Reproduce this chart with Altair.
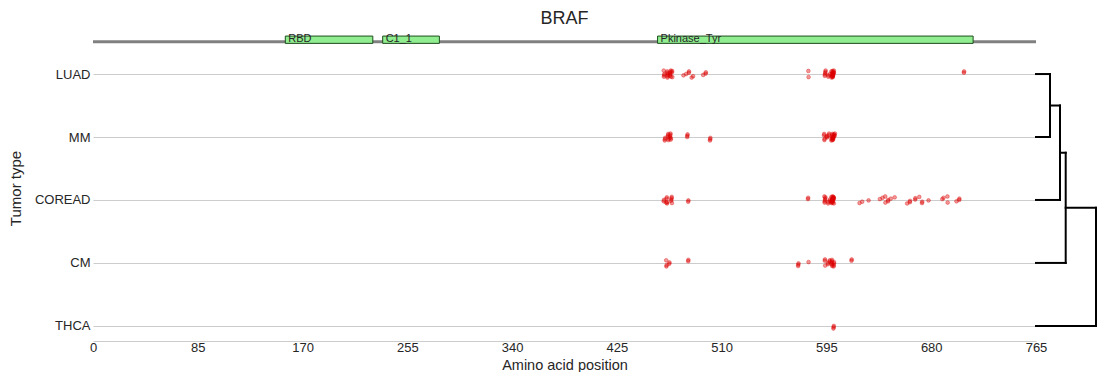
import altair as alt
import pandas as pd

FONT = "Liberation Sans"

# ---------------- data ----------------
tumor_types = ["LUAD", "MM", "COREAD", "CM", "THCA"]

luad_pos = [464, 466, 469, 479, 481, 483, 485, 486, 494, 498, 581, 594, 596, 597, 600, 601, 707]
luad_cnt = [4, 6, 9, 1, 1, 2, 1, 1, 1, 2, 2, 5, 2, 1, 14, 3, 2]

mm_pos = [464, 466, 469, 482, 500, 594, 596, 597, 600, 601]
mm_cnt = [3, 5, 6, 3, 3, 5, 2, 2, 14, 3]

coread_pos = [464, 466, 469, 482, 581, 594, 596, 597, 600, 601,
              622, 624, 629, 638, 640, 642, 644, 646, 648, 651,
              661, 663, 667, 670, 672, 677, 688, 691, 694, 701, 703]
coread_cnt = [3, 4, 5, 2, 2, 6, 2, 2, 16, 3,
              1, 1, 1, 1, 1, 2, 1, 1, 1, 1,
              1, 2, 2, 1, 2, 1, 1, 1, 2, 1, 2]

cm_pos = [465, 467, 482, 573, 581, 594, 596, 597, 600, 601, 615]
cm_cnt = [3, 2, 2, 3, 1, 3, 2, 2, 8, 2, 2]

thca_pos = [600]
thca_cnt = [3]

domain_names = ["RBD", "C1_1", "Pkinase_Tyr"]
domain_start = [156, 235, 458]
domain_end = [227, 281, 714]
protein_length = 765
x_ticks = [0, 85, 170, 255, 340, 425, 510, 595, 680, 765]

# dendrogram (scipy-style linkage: leaves 0..4, merged nodes 5..)
merge_left = [0, 5, 6, 7]
merge_right = [1, 2, 3, 4]
merge_height = [0.233, 0.40, 0.495, 1.0]

# ---------------- tables ----------------
series = [(luad_pos, luad_cnt), (mm_pos, mm_cnt), (coread_pos, coread_cnt),
          (cm_pos, cm_cnt), (thca_pos, thca_cnt)]
rows = []
k = 0
for ti, (pos, cnt) in enumerate(series):
    for p, c in zip(pos, cnt):
        for _ in range(c):
            jy = ((k * 7919) % 17) / 16 - 0.5       # deterministic jitter, +-0.5
            jx = ((k * 104729) % 13) / 12 - 0.5
            rows.append({"type": tumor_types[ti], "row": ti,
                         "pos": p + jx * 2.0, "yj": ti + jy * 7 / 63})
            k += 1
points = pd.DataFrame(rows)

domains = pd.DataFrame({"name": domain_names, "start": domain_start, "end": domain_end})
track = pd.DataFrame({"start": [0], "end": [protein_length]})

node_y = {i: float(i) for i in range(len(tumor_types))}
node_h = {i: 0.0 for i in range(len(tumor_types))}
segs = []
for m, (l, r, h) in enumerate(zip(merge_left, merge_right, merge_height)):
    nid = len(tumor_types) + m
    segs.append({"x": h, "x2": h, "y": node_y[l], "y2": node_y[r]})
    segs.append({"x": node_h[l], "x2": h, "y": node_y[l], "y2": node_y[l]})
    segs.append({"x": node_h[r], "x2": h, "y": node_y[r], "y2": node_y[r]})
    node_y[nid] = (node_y[l] + node_y[r]) / 2
    node_h[nid] = h
dendro_df = pd.DataFrame(segs)

# ---------------- chart ----------------
Y_DOMAIN = [-0.62, 4.24]
PLOT_W, PLOT_H = 943, 306

label_expr = "[" + ",".join("'%s'" % t for t in tumor_types) + "][datum.value]"
yscale = alt.Scale(domain=Y_DOMAIN, reverse=True, nice=False, zero=False)
xscale = alt.Scale(domain=[0, protein_length], nice=False, zero=False)

y_axis = alt.Axis(values=list(range(len(tumor_types))), labelExpr=label_expr,
                  grid=True, gridColor="#cccccc", gridWidth=1, domain=False, ticks=False,
                  labelPadding=3, labelFontSize=13, labelColor="#262626", labelFont=FONT,
                  title="Tumor type", titleFontSize=15, titleFontWeight="normal",
                  titleColor="#262626", titleFont=FONT, titlePadding=11)
x_axis = alt.Axis(values=x_ticks, grid=False, ticks=False, domain=True,
                  domainColor="#cccccc", domainWidth=1, labelPadding=0, labelFlush=False,
                  labelFontSize=13, labelColor="#262626", labelFont=FONT,
                  title="Amino acid position", titleFontSize=14.5, titleFontWeight="normal",
                  titleColor="#262626", titleFont=FONT, titlePadding=4)

base_pts = alt.Chart(points).mark_circle(
    size=14, color="#dd0000", fillOpacity=0.4, stroke="#dd0000",
    strokeOpacity=0.45, strokeWidth=0.8
).encode(
    x=alt.X("pos:Q", scale=xscale, axis=x_axis),
    y=alt.Y("yj:Q", scale=yscale, axis=y_axis),
)

track_line = alt.Chart(track).mark_rule(color="#808080", strokeWidth=3).encode(
    x=alt.X("start:Q", scale=xscale),
    x2="end:Q",
    y=alt.datum(-0.513),
)

domain_boxes = alt.Chart(domains).mark_rect(
    fill="#90ee90", stroke="#1d4d1d", strokeWidth=1
).encode(
    x=alt.X("start:Q", scale=xscale),
    x2="end:Q",
    y=alt.datum(-0.603),
    y2=alt.datum(-0.487),
)

domain_text = alt.Chart(domains).mark_text(
    align="left", baseline="middle", dx=3, dy=-1, fontSize=11, font=FONT, color="#262626"
).encode(
    x=alt.X("start:Q", scale=xscale),
    y=alt.datum(-0.545),
    text="name:N",
)

main = alt.layer(base_pts, track_line, domain_boxes, domain_text).properties(
    width=PLOT_W, height=PLOT_H,
    title=alt.Title("BRAF", fontSize=18, fontWeight="normal", color="#262626",
                    font=FONT, anchor="middle", offset=5),
)

dendro = alt.Chart(dendro_df).mark_rule(color="black", strokeWidth=2, strokeCap="square").encode(
    x=alt.X("x:Q", scale=alt.Scale(domain=[0, 1], nice=False, zero=False), axis=None),
    x2="x2:Q",
    y=alt.Y("y:Q", scale=yscale, axis=None),
    y2="y2:Q",
).properties(width=60, height=PLOT_H)

chart = alt.hconcat(main, dendro, spacing=0, bounds="flush").configure_view(stroke=None).properties(
    padding={"left": 0, "top": 1, "right": 0, "bottom": 0}
)

chart.save("out.html", embed_options={"renderer": "svg", "actions": False})
